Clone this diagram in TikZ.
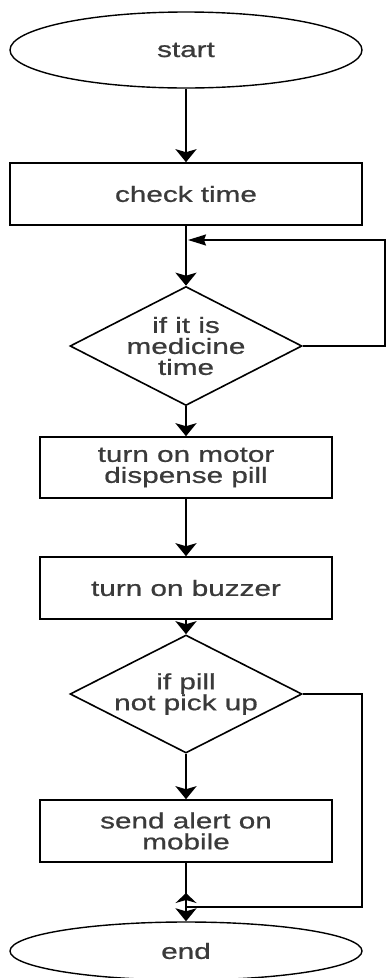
\documentclass[tikz,border=0pt]{standalone}
\usepackage{fontspec}
\setmainfont{Liberation Sans}[FakeStretch=1.35,FakeBold=0.8]
\usetikzlibrary{shapes.geometric,arrows.meta}
\definecolor{textgray}{HTML}{3A3A3A}
\tikzset{
  box/.style={draw,line width=1.6pt,rectangle,align=center,text=textgray},
  oval/.style={draw,line width=1.4pt,ellipse,text=textgray},
  decide/.style={draw,line width=1.6pt,diamond,aspect=1.95,align=center,text=textgray,inner sep=-5pt},
  flow/.style={line width=2.4pt,-{Stealth[length=13pt,width=21pt,inset=3pt]}},
  loopline/.style={line width=1.5pt}
}
\begin{document}
\begin{tikzpicture}[x=1pt,y=-1pt,font=\fontsize{22}{21}\selectfont]
			\useasboundingbox (0,0) rectangle (387,978);

			% Nodos
			\node[oval,minimum width=352pt,minimum height=76pt] (start) at (186,50) {start};
			\node[box,minimum width=352pt,minimum height=62pt] (check) at (186,194) {check time};
			\node[decide,minimum width=232pt,minimum height=119pt] (medq) at (186,346) {if it is\\medicine\\time};
			\node[box,minimum width=292pt,minimum height=61pt] (motor) at (186,467.5) {turn on motor\\dispense pill};
			\node[box,minimum width=292pt,minimum height=62pt] (buzzer) at (186,588) {turn on buzzer};
			\node[decide,minimum width=232pt,minimum height=118pt] (pillq) at (186,694) {if pill\\not pick up};
			\node[box,minimum width=292pt,minimum height=62pt] (alert) at (186,831) {send alert on\\mobile};
			\node[oval,minimum width=352pt,minimum height=58pt] (end) at (186,951) {end};

			% Flechas
			\draw[flow] (start) -- (check);
			\draw[flow] (check) -- (medq);
			\draw[flow] (medq) -- (motor);
			\draw[flow] (motor) -- (buzzer);
			\draw[flow] (buzzer) -- (pillq);
			\draw[flow] (pillq) -- (alert);
			\draw[flow] (alert) -- (end);

			% Retornos
			\coordinate (loopr) at (385,240);
			\coordinate (loopin) at (188,240);
			\draw[loopline,-{Stealth[length=18pt,width=11pt,inset=2pt]}] (medq.east) -| (loopr) -- (loopin);

			\coordinate (loopb) at (362,907);
			\coordinate (joinb) at (186,907);
			\coordinate (joinup) at (186,893);
			\draw[loopline] (pillq.east) -| (loopb) -- (joinb);
			\draw[loopline,-{Stealth[length=10pt,width=21pt,inset=3pt]}] (joinb) -- (joinup);
\end{tikzpicture}
\end{document}
